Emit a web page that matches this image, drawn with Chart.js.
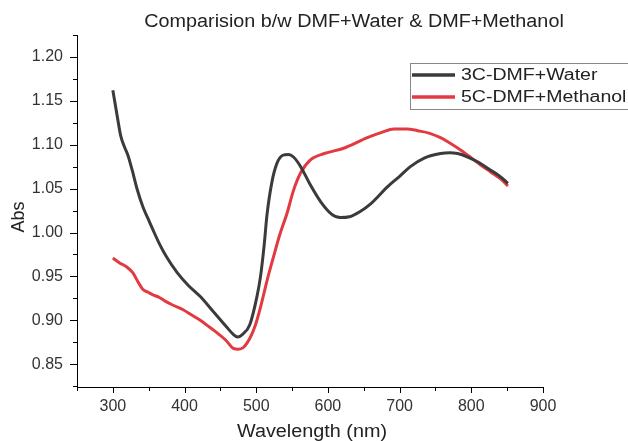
<!DOCTYPE html>
<html>
<head>
<meta charset="utf-8">
<script src="https://cdn.jsdelivr.net/npm/chart.js@4/dist/chart.umd.min.js"></script>
<style>
  html, body { margin: 0; padding: 0; background: #fff; }
  #wrap { width: 628px; height: 441px; }
</style>
</head>
<body>
<div id="wrap"><canvas id="chart" width="628" height="441"></canvas></div>
<script>
// Series: 3C-DMF+Water
let waterWl  = [300, 306, 311, 317, 321, 327, 334, 342, 349, 356, 365, 375, 390, 405, 422, 440, 459, 468, 474, 481, 491, 501, 506, 511, 515, 522, 529, 537, 545, 552, 562, 575, 590, 605, 617, 630, 645, 660, 683, 700, 715, 735, 757, 770, 781, 795, 810, 827, 840, 851];
let waterAbs = [1.162, 1.133, 1.110, 1.096, 1.088, 1.071, 1.049, 1.029, 1.016, 1.003, 0.987, 0.972, 0.954, 0.940, 0.927, 0.910, 0.892, 0.884, 0.881, 0.884, 0.895, 0.927, 0.950, 0.985, 1.020, 1.058, 1.079, 1.088, 1.089, 1.086, 1.075, 1.055, 1.035, 1.021, 1.017, 1.018, 1.024, 1.033, 1.052, 1.064, 1.075, 1.085, 1.090, 1.091, 1.090, 1.086, 1.080, 1.071, 1.064, 1.056];

// Series: 5C-DMF+Methanol
let methWl  = [300, 310, 319, 328, 335, 342, 349, 356, 365, 375, 382, 390, 398, 410, 422, 435, 445, 458, 468, 475, 482, 492, 499, 506, 515, 524, 533, 543, 552, 562, 576, 595, 622, 655, 675, 692, 710, 725, 742, 757, 770, 785, 800, 813, 827, 841, 851];
let methAbs = [0.971, 0.965, 0.961, 0.954, 0.944, 0.935, 0.932, 0.929, 0.926, 0.921, 0.918, 0.915, 0.912, 0.906, 0.900, 0.892, 0.886, 0.877, 0.868, 0.867, 0.869, 0.881, 0.895, 0.915, 0.945, 0.972, 0.998, 1.022, 1.048, 1.068, 1.083, 1.090, 1.096, 1.108, 1.114, 1.118, 1.118, 1.116, 1.113, 1.108, 1.102, 1.094, 1.085, 1.077, 1.069, 1.061, 1.053];

// Axis ticks
let xTicks = [300, 400, 500, 600, 700, 800, 900];
let yTicks = [0.85, 0.90, 0.95, 1.00, 1.05, 1.10, 1.15, 1.20];

let labels = ['3C-DMF+Water', '5C-DMF+Methanol'];
let titleText = 'Comparision b/w DMF+Water & DMF+Methanol';
let xTitle = 'Wavelength (nm)';
let yTitle = 'Abs';

let FONT = '"Liberation Sans", Arial, sans-serif';

function toPoints(xs, ys) {
  return xs.map((x, i) => ({ x: x, y: ys[i] }));
}

// text drawn a little wider, like the stretched original
function wideText(c, text, x, y, sx) {
  c.save();
  c.translate(x, y);
  c.scale(sx, 1);
  c.fillText(text, 0, 0);
  c.restore();
}

//=======================================
//  Minor/major ticks, titles and legend
//=======================================
let decorPlugin = {
  id: 'decor',
  afterDraw(chart) {
    let c = chart.ctx;
    let xs = chart.scales.x;
    let ys = chart.scales.y;
    let area = chart.chartArea;

    c.save();
    c.strokeStyle = '#000';
    c.lineWidth = 1;
    c.beginPath();
    // x ticks: major every 100, minor every 50
    for (let v = 250; v <= 900; v += 50) {
      let px = Math.round(xs.getPixelForValue(v)) + 0.5;
      let len = (v % 100 === 0) ? 6 : 4;
      c.moveTo(px, area.bottom);
      c.lineTo(px, area.bottom + len);
    }
    // y ticks: major every 0.05, minor every 0.025
    for (let i = 0; i <= 16; i++) {
      let v = 0.825 + i * 0.025;
      let py = Math.round(ys.getPixelForValue(v)) + 0.5;
      let len = (i % 2 === 1) ? 7 : 4;
      c.moveTo(area.left, py);
      c.lineTo(area.left - len, py);
    }
    c.stroke();

    // chart title
    c.fillStyle = '#222';
    c.font = '18px ' + FONT;
    c.textAlign = 'center';
    c.textBaseline = 'middle';
    wideText(c, titleText, 354, 22, 1.1);

    // axis titles
    c.font = '18px ' + FONT;
    wideText(c, xTitle, 312, 432, 1.1);
    c.save();
    c.translate(19, 217);
    c.rotate(-Math.PI / 2);
    c.fillText(yTitle, 0, 0);
    c.restore();

    // legend
    c.strokeStyle = '#888';
    c.lineWidth = 1;
    c.strokeRect(410.5, 63.5, 240, 46);
    c.font = '16px ' + FONT;
    c.textAlign = 'left';
    chart.data.datasets.forEach((ds, i) => {
      let y = 75 + i * 22;
      c.strokeStyle = ds.borderColor;
      c.lineWidth = 3.5;
      c.beginPath();
      c.moveTo(412, y);
      c.lineTo(455, y);
      c.stroke();
      c.fillStyle = '#222';
      wideText(c, ds.label, 461, y + 1, 1.22);
    });
    c.restore();
  }
};

let ctx = document.getElementById('chart');

let liveChart = new Chart(ctx, {
  type: 'line',
  data: {
    datasets: [{
      label: labels[0],
      data: toPoints(waterWl, waterAbs),
      borderColor: '#3b3b3b',
      borderWidth: 3,
      pointRadius: 0,
      cubicInterpolationMode: 'monotone'
    }, {
      label: labels[1],
      data: toPoints(methWl, methAbs),
      borderColor: '#e23a40',
      borderWidth: 3,
      pointRadius: 0,
      cubicInterpolationMode: 'monotone'
    }]
  },
  options: {
    responsive: false,
    animation: false,
    layout: { padding: { top: 35, right: 85, left: 0, bottom: 0 } },
    plugins: {
      legend: { display: false },
      title: { display: false },
      tooltip: { enabled: false }
    },
    scales: {
      x: {
        type: 'linear',
        min: 250,
        max: 900,
        afterBuildTicks: s => { s.ticks = xTicks.map(v => ({ value: v })); },
        afterFit: s => { s.height = 54; },
        grid: { display: false, drawTicks: false },
        border: { display: true, color: '#000', width: 1 },
        ticks: { color: '#333', font: { family: FONT, size: 16 }, padding: 10, maxRotation: 0 },
        title: { display: false }
      },
      y: {
        type: 'linear',
        min: 0.824,
        max: 1.225,
        afterBuildTicks: s => { s.ticks = yTicks.map(v => ({ value: v })); },
        afterFit: s => { s.width = 77; },
        grid: { display: false, drawTicks: false },
        border: { display: true, color: '#000', width: 1 },
        ticks: { color: '#333', font: { family: FONT, size: 16 }, padding: 14, callback: v => v.toFixed(2) },
        title: { display: false }
      }
    }
  },
  plugins: [decorPlugin]
});
</script>
</body>
</html>
